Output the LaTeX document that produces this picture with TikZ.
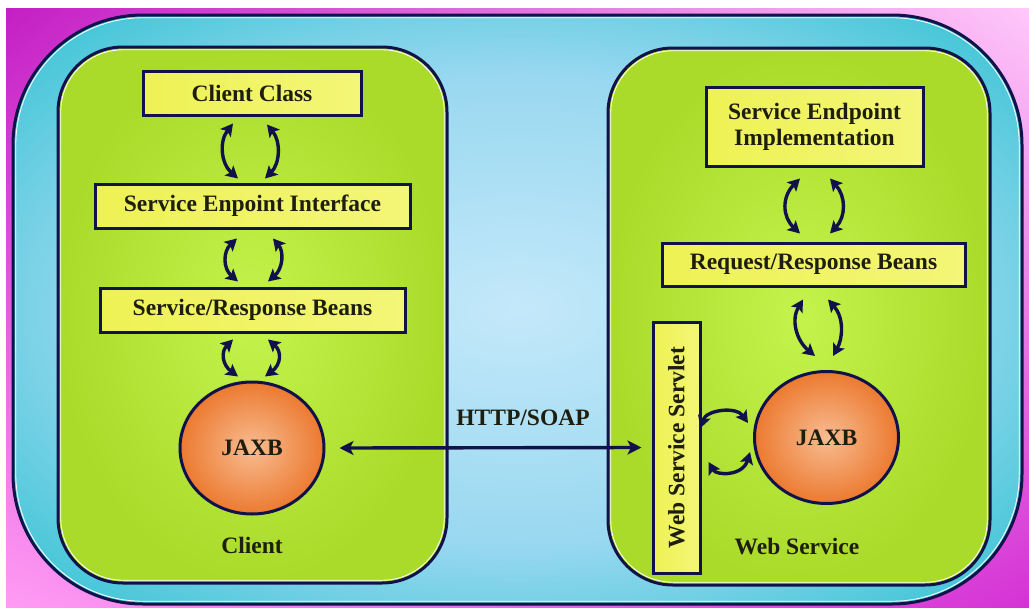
\documentclass[tikz,border=0pt]{standalone}
\usepackage{fontspec}
\setmainfont{Liberation Serif}
\usetikzlibrary{arrows.meta,shapes.geometric,shadings}
\definecolor{navy}{HTML}{12124A}
\definecolor{mag}{HTML}{C41EC4}
\definecolor{pinkl}{HTML}{FF9CF4}
\definecolor{pinkw}{HTML}{FFC8FA}
\definecolor{mag2}{HTML}{D432D4}
\definecolor{cyanE}{HTML}{3AC4D4}
\definecolor{blueM}{HTML}{98D8F0}
\definecolor{blueC}{HTML}{C4E8FA}
\definecolor{grnD}{HTML}{AADA2A}
\definecolor{grnL}{HTML}{C4F44C}
\definecolor{ylwA}{HTML}{EEF254}
\definecolor{ylwB}{HTML}{FFFFC8}
\definecolor{orgA}{HTML}{EC7A30}
\definecolor{orgB}{HTML}{F8BC92}
\definecolor{txt}{HTML}{1E1E0E}
\pgfdeclareradialshading{framesh}{\pgfpoint{0bp}{0bp}}{color(0bp)=(blueC); color(20bp)=(blueM); color(34bp)=(cyanE); color(50bp)=(cyanE)}
\tikzset{
  lblfont/.style={font=\bfseries\fontsize{23.5}{26}\selectfont, text=txt},
  ybox/.style={lblfont, draw=navy, line width=3pt, left color=ylwA, middle color=ylwB, right color=ylwA!70!ylwB, inner sep=0pt, align=center},
  blob/.style={lblfont, ellipse, draw=navy, line width=3pt, inner color=orgB, outer color=orgA, minimum width=144pt, minimum height=132pt, inner sep=0pt},
  plain/.style={lblfont, inner sep=0pt},
  curv/.style={draw=navy, line width=3.4pt, >={Stealth[length=12pt,width=13pt,inset=2.5pt]}, <->},
  httparr/.style={draw=navy, line width=3.4pt, >={Stealth[length=14pt,width=14pt,inset=3.5pt]}, <->},
  panel/.style={rounded corners=65pt, inner color=grnL, outer color=grnD},
}
\begin{document}
\begin{tikzpicture}[x=1pt,y=-1pt]
\useasboundingbox (0,0) rectangle (1029,608);
\fill[white] (0,0) rectangle (1029,608);
\shade[upper left=mag, upper right=pinkw, lower left=pinkl, lower right=mag2] (6,8) rectangle (1029,608);
% outer frame
\shade[rounded corners=130pt, shading=framesh] (13,15) rectangle (1022,604);
\draw[navy, line width=3pt, rounded corners=130pt] (13,15) rectangle (1022,604);
\draw[white, line width=0.8pt, rounded corners=127pt] (15.8,17.8) rectangle (1019.2,601.2);
% panels
\shade[panel] (58,47) rectangle (447,583);
\draw[navy, line width=3pt, rounded corners=65pt] (58,47) rectangle (447,583);
\draw[white, line width=0.8pt, rounded corners=62pt] (60.8,49.8) rectangle (444.2,580.2);
\shade[panel] (608,48) rectangle (990,585);
\draw[navy, line width=3pt, rounded corners=65pt] (608,48) rectangle (990,585);
\draw[white, line width=0.8pt, rounded corners=62pt] (610.8,50.8) rectangle (987.2,582.2);
% client side
\node[ybox, minimum width=218pt, minimum height=44pt] (cc) at (252,93) {Client Class};
\node[ybox, minimum width=315pt, minimum height=44pt] (sei) at (252.5,206) {Service Enpoint Interface};
\node[ybox, minimum width=305pt, minimum height=44pt] (srb) at (252.5,310) {Service/Response Beans};
\node[blob] (jl) at (252,448) {JAXB};
\node[plain] (cl) at (252,545) {Client};
% service side
\node[ybox, minimum width=217pt, minimum height=79pt] (sep) at (814.5,126.5) {Service Endpoint\\Implementation};
\node[ybox, minimum width=303pt, minimum height=43pt] (rrb) at (813.5,264.5) {Request/Response Beans};
\node[ybox, rotate=90, minimum width=251pt, minimum height=47pt] (srv) at (676.5,447.5) {Web Service Servlet};
\node[blob] (jr) at (826.5,437.5) {JAXB};
\node[plain] (wsl) at (797,547) {Web Service};
\node[plain] (http) at (523,418) {HTTP/SOAP};
% curved arrows, client
\draw[curv] ([shift={(-19pt,-7pt)}]cc.south) .. controls +(-14pt,-18pt) and +(-17pt,15pt) .. ([shift={(-14.5pt,4pt)}]sei.north);
\draw[curv] ([shift={(15pt,-8pt)}]cc.south) .. controls +(14pt,-17pt) and +(15pt,15pt) .. ([shift={(12.5pt,4pt)}]sei.north);
\draw[curv] ([shift={(-15.5pt,-9pt)}]sei.south) .. controls +(-14pt,-13pt) and +(-15pt,13pt) .. ([shift={(-14.5pt,5pt)}]srb.north);
\draw[curv] ([shift={(20.5pt,-9pt)}]sei.south) .. controls +(11pt,-13pt) and +(15pt,13pt) .. ([shift={(15.5pt,5pt)}]srb.north);
\draw[curv] ([shift={(-19.5pt,-6pt)}]srb.south) .. controls +(-12pt,-12pt) and +(-16pt,12pt) .. ([shift={(-14pt,4pt)}]jl.north);
\draw[curv] ([shift={(15.5pt,-6pt)}]srb.south) .. controls +(14pt,-12pt) and +(16pt,12pt) .. ([shift={(13pt,4pt)}]jl.north);
% curved arrows, service
\draw[curv] ([shift={(-14.5pt,-11pt)}]sep.south) .. controls +(-18pt,-18pt) and +(-18pt,17pt) .. ([shift={(-13.5pt,8pt)}]rrb.north);
\draw[curv] ([shift={(15.5pt,-11pt)}]sep.south) .. controls +(16pt,-18pt) and +(16pt,17pt) .. ([shift={(16.5pt,8pt)}]rrb.north);
\draw[curv] ([shift={(-10.5pt,-12pt)}]rrb.south) .. controls +(-12pt,-20pt) and +(-19pt,16pt) .. ([shift={(-11.5pt,14pt)}]jr.north);
\draw[curv] ([shift={(14.5pt,-12pt)}]rrb.south) .. controls +(16pt,-18pt) and +(10pt,18pt) .. ([shift={(6.5pt,14pt)}]jr.north);
\draw[curv] ([shift={(-1pt,19.5pt)}]srv.south) .. controls +(6pt,18pt) and +(-12pt,17pt) .. ([shift={(-5pt,14.5pt)}]jr.west);
\draw[curv] ([shift={(7pt,-14.5pt)}]srv.south) .. controls +(8pt,-14pt) and +(-7pt,-24pt) .. ([shift={(-3pt,-14.5pt)}]jr.west);
% http
\draw[httparr] ([xshift=14pt]jl.east) -- ([xshift=-10pt]srv.north);
\end{tikzpicture}
\end{document}
